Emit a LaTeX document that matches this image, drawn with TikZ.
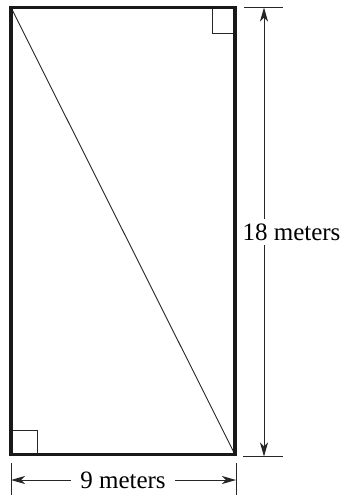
\documentclass[tikz,border=0pt]{standalone}
\usepackage{fontspec}
\setmainfont{Liberation Serif}
\usetikzlibrary{arrows.meta}
\begin{document}
\begin{tikzpicture}[x=1pt,y=-1pt,
  thinline/.style={line width=0.9pt,draw=black!85},
  boxline/.style={line width=3.6pt,draw=black!90},
  tip/.style={Stealth[length=14pt,width=8pt,inset=4pt]},
  dimline/.style={thinline,{Stealth[length=14pt,width=8pt,inset=4pt]}-{Stealth[length=14pt,width=8pt,inset=4pt]}},
  dimlabel/.style={fill=white,inner xsep=1pt,inner ysep=5pt,font=\fontsize{25}{29}\selectfont}]
\useasboundingbox (0,0) rectangle (343,496);
\coordinate (TL) at (11,7.5);
\coordinate (TR) at (235,7.5);
\coordinate (BR) at (235,454.5);
\coordinate (BL) at (11,454.5);
% right angle marks
\draw[thinline] (212,7.5) -- (212,33) -- (TR|-0,33);
\draw[thinline] (BL|-0,430.5) -- (37,430.5) -- (37,454.5);
% diagonal
\draw[thinline] (TL) -- (BR);
% rectangle
\draw[boxline] (TL) rectangle (BR);
% vertical dimension
\coordinate (VT) at (264,7.5);
\coordinate (VB) at (264,456.5);
\draw[thinline] (244,7.5) -- (283,7.5);
\draw[thinline] (243,456.5) -- (283,456.5);
\draw[dimline] (VT) -- (VB);
\node[dimlabel] (h) at (291.5,232) {18 meters};
% horizontal dimension
\coordinate (HL) at (11,480);
\coordinate (HR) at (236,480);
\draw[thinline] (11,463) -- (11,495);
\draw[thinline] (236,463) -- (236,495);
\draw[dimline] (HL) -- (HR);
\node[dimlabel,inner xsep=9pt,inner ysep=1pt] (w) at (123,480) {9 meters};
\end{tikzpicture}
\end{document}
